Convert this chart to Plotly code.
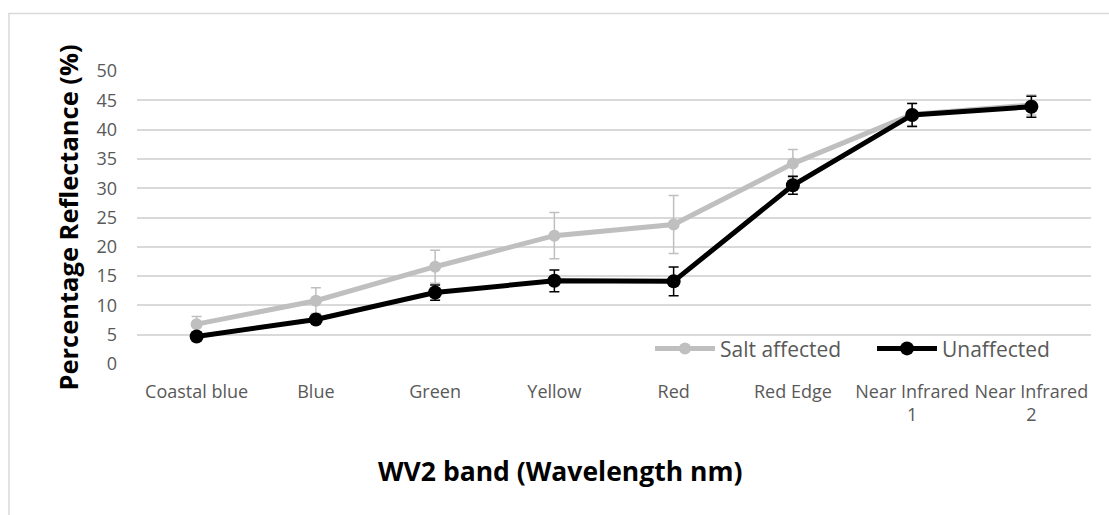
import plotly.graph_objects as go

bands = ["Coastal blue", "Blue", "Green", "Yellow", "Red", "Red Edge",
         "Near Infrared<br>1", "Near Infrared<br>2"]
salt_affected = [6.8, 10.8, 16.6, 21.9, 23.8, 34.2, 42.6, 44.2]
salt_err = [1.3, 2.2, 2.8, 3.95, 4.95, 2.4, 1.9, 1.7]
unaffected = [4.7, 7.6, 12.2, 14.2, 14.1, 30.5, 42.5, 43.9]
unaff_err = [0.5, 0.6, 1.3, 1.85, 2.45, 1.55, 1.95, 1.8]

FONT = "Open Sans"
L, R, T, B = 137, 18, 71, 151
PW = 1109 - L - R
PH = 515 - T - B

fig = go.Figure()
fig.add_trace(go.Scatter(
    x=bands, y=salt_affected, name="Salt affected", mode="lines+markers",
    line=dict(color="#bfbfbf", width=5), marker=dict(color="#bfbfbf", size=12),
    error_y=dict(type="data", array=salt_err, visible=True, color="#bfbfbf",
                 thickness=1.5, width=5)))
fig.add_trace(go.Scatter(
    x=bands, y=unaffected, name="Unaffected", mode="lines+markers",
    line=dict(color="#000000", width=5), marker=dict(color="#000000", size=14),
    error_y=dict(type="data", array=unaff_err, visible=True, color="#000000",
                 thickness=1.5, width=5)))

fig.update_layout(
    width=1109, height=515,
    margin=dict(l=L, r=R, t=T, b=B, autoexpand=False),
    paper_bgcolor="white", plot_bgcolor="white",
    font=dict(family=FONT, color="#595959"),
    showlegend=True,
    legend=dict(orientation="h", x=(650 - L) / PW, y=0.052, xanchor="left", yanchor="middle",
                bgcolor="rgba(0,0,0,0)", font=dict(size=21, color="#595959"),
                entrywidth=147, entrywidthmode="pixels", itemwidth=60,
                traceorder="normal"),
    xaxis=dict(type="category", range=[-0.5, 7.5], showgrid=False, zeroline=False,
               showline=False, ticks="", tickfont=dict(size=18, color="#595959"),
               ticklabelstandoff=15),
    yaxis=dict(range=[0, 50], dtick=5, showgrid=True, gridcolor="#d9d9d9", gridwidth=1.5,
               zeroline=False, showline=False, ticks="",
               tickfont=dict(size=18, color="#595959"), ticklabelstandoff=19,
               title=dict(text="<b>Percentage Reflectance (%)</b>",
                          font=dict(size=25.5, color="#000000"), standoff=10)),
    annotations=[dict(text="<b>WV2 band (Wavelength nm)</b>", xref="paper", yref="paper",
                      x=(560 - L) / PW, y=(364.3 - 472) / 293.6, xanchor="center",
                      yanchor="middle", showarrow=False,
                      font=dict(family=FONT, size=26.5, color="#000000"))],
    shapes=[dict(type="rect", xref="paper", yref="paper",
                 x0=(9 - L) / PW, x1=1.1, y0=-0.7, y1=(364.3 - 13) / 293.6,
                 line=dict(color="#d9d9d9", width=1.5), fillcolor="rgba(0,0,0,0)",
                 layer="below")],
)

fig.write_html("out.html")
